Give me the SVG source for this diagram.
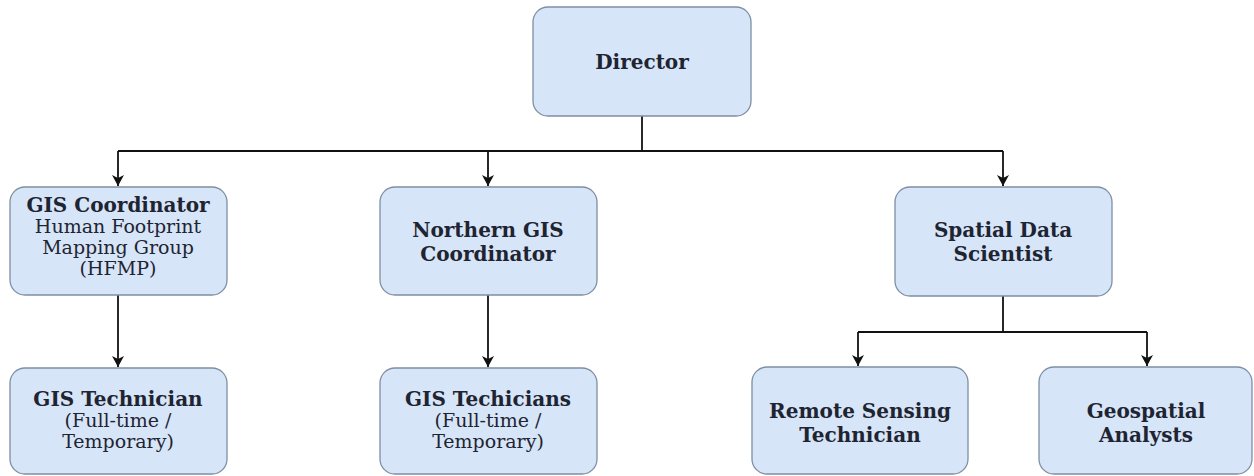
<svg xmlns="http://www.w3.org/2000/svg" width="1254" height="476" viewBox="0 0 1254 476">
  <style>
    .box { fill: #d7e5f8; stroke: #7f8fa3; stroke-width: 1.3; }
    .t { font-family: "DejaVu Serif", "Liberation Serif", serif; fill: #1e2431; text-anchor: middle; }
    .b { font-weight: bold; font-size: 20px; }
    .r { font-size: 19px; }
    .wire { fill: none; stroke: #111111; stroke-width: 1.8; }
  </style>
  <defs>
    <marker id="arrow" markerWidth="14" markerHeight="14" refX="11" refY="6.5" orient="auto" markerUnits="userSpaceOnUse">
      <path d="M0,0.5 L11,6.5 L0,12.5 L3,6.5 Z" fill="#111111"/>
    </marker>
  </defs>
  <rect width="1254" height="476" fill="#ffffff"/>

  <g id="connectors">
    <path class="wire" d="M642,116 V151"/>
    <path class="wire" d="M118,151 H1003"/>
    <path class="wire" d="M118,151 V186" marker-end="url(#arrow)"/>
    <path class="wire" d="M488,151 V186" marker-end="url(#arrow)"/>
    <path class="wire" d="M1003,151 V186" marker-end="url(#arrow)"/>
    <path class="wire" d="M118,295 V367" marker-end="url(#arrow)"/>
    <path class="wire" d="M488,295 V367" marker-end="url(#arrow)"/>
    <path class="wire" d="M1003,296 V332 H858 M1003,332 H1147"/>
    <path class="wire" d="M858,332 V366" marker-end="url(#arrow)"/>
    <path class="wire" d="M1147,332 V366" marker-end="url(#arrow)"/>
  </g>

  <g id="director">
    <rect class="box" x="533" y="7" width="218" height="109" rx="15"/>
    <text class="t b" x="642" y="69" font-size="21">Director</text>
  </g>

  <g id="gis-coordinator">
    <rect class="box" x="10" y="187" width="217" height="108" rx="15"/>
    <text class="t b" x="118" y="212">GIS Coordinator</text>
    <text class="t r" x="118" y="233">Human Footprint</text>
    <text class="t r" x="118" y="254">Mapping Group</text>
    <text class="t r" x="118" y="275">(HFMP)</text>
  </g>

  <g id="northern-gis-coordinator">
    <rect class="box" x="380" y="187" width="217" height="108" rx="15"/>
    <text class="t b" x="488" y="237">Northern GIS</text>
    <text class="t b" x="488" y="261">Coordinator</text>
  </g>

  <g id="spatial-data-scientist">
    <rect class="box" x="895" y="187" width="217" height="109" rx="15"/>
    <text class="t b" x="1003" y="237">Spatial Data</text>
    <text class="t b" x="1003" y="261">Scientist</text>
  </g>

  <g id="gis-technician">
    <rect class="box" x="10" y="368" width="217" height="106" rx="15"/>
    <text class="t b" x="118" y="406">GIS Technician</text>
    <text class="t r" x="118" y="427">(Full-time /</text>
    <text class="t r" x="118" y="448">Temporary)</text>
  </g>

  <g id="gis-techicians">
    <rect class="box" x="380" y="368" width="217" height="106" rx="15"/>
    <text class="t b" x="488" y="406">GIS Techicians</text>
    <text class="t r" x="488" y="427">(Full-time /</text>
    <text class="t r" x="488" y="448">Temporary)</text>
  </g>

  <g id="remote-sensing-technician">
    <rect class="box" x="752" y="367" width="216" height="107" rx="15"/>
    <text class="t b" x="860" y="418">Remote Sensing</text>
    <text class="t b" x="860" y="442">Technician</text>
  </g>

  <g id="geospatial-analysts">
    <rect class="box" x="1039" y="367" width="213" height="107" rx="15"/>
    <text class="t b" x="1146" y="418">Geospatial</text>
    <text class="t b" x="1146" y="442">Analysts</text>
  </g>
</svg>
